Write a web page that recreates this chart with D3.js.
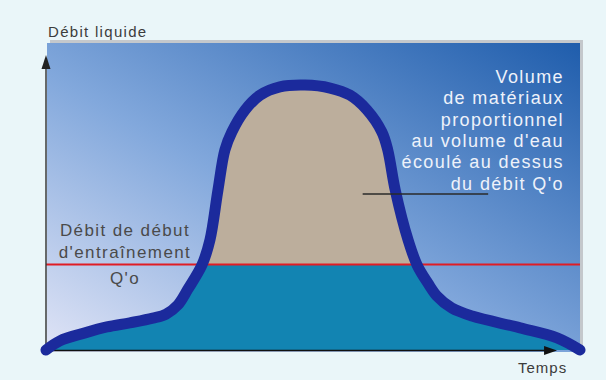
<!DOCTYPE html>
<html>
<head>
<meta charset="utf-8">
<script src="https://cdn.jsdelivr.net/npm/d3@7"></script>
<style>
  html, body { margin: 0; padding: 0; background: #eaf6f9; }
  svg { display: block; }
  text { font-family: "Liberation Sans", Arial, sans-serif; }
</style>
</head>
<body>
<svg id="chart" width="606" height="380"></svg>
<script>
// Hydrograph: liquid discharge over time (arbitrary units, 0-100)
const temps = [0, 2.6, 7.3, 11.4, 15.7, 20.0, 22.5, 24.7, 26.6, 29.2, 30.7, 32.2, 33.5, 34.8, 37.3, 40.1,
               43.8, 48.5, 53.2, 56.9, 60.1, 62.9, 64.0, 65.4, 67.8, 69.5, 71.5, 73.2, 76.0, 79.8,
               88.8, 95.7, 100];
const debit = [0, 3.1, 5.8, 7.8, 9.2, 10.8, 12.2, 15.3, 20.7, 28.8, 37.3, 54.2, 67.8, 73.9, 81.4, 86.4,
               89.2, 89.8, 88.8, 86.4, 81.4, 73.9, 67.8, 54.2, 37.3, 28.8, 22.7, 18.3, 14.2, 11.5,
               7.5, 4.1, 0];
// Threshold discharge for the start of sediment transport (Q'o)
const debitSeuil = 29;

const titreAxeY = "Débit liquide";
const titreAxeX = "Temps";
const labelSeuil = ["Débit de début", "d'entraînement", "Q'o"];
const labelVolume = ["Volume", "de matériaux", "proportionnel", "au volume d'eau", "écoulé au dessus", "du débit Q'o"];

const points = temps.map((t, i) => ({ t, q: debit[i] }));

const svg = d3.select("#chart");
const x = d3.scaleLinear().domain([0, 100]).range([46, 580]);
const y = d3.scaleLinear().domain([0, 100]).range([350, 55]);

const panel = { x0: 47, y0: 43, x1: 580, y1: 352 };

// Background gradient of the plotting panel
const defs = svg.append("defs");
const grad = defs.append("linearGradient")
  .attr("id", "fond").attr("x1", 0).attr("y1", 1).attr("x2", 1).attr("y2", 0);
grad.append("stop").attr("offset", 0).attr("stop-color", "#e0e4f6");
grad.append("stop").attr("offset", 0.45).attr("stop-color", "#82a8dc");
grad.append("stop").attr("offset", 1).attr("stop-color", "#1f5dac");

// Panel shadow and panel
svg.append("rect")
  .attr("x", panel.x0 + 3).attr("y", panel.y0 - 3)
  .attr("width", panel.x1 - panel.x0).attr("height", panel.y1 - panel.y0)
  .attr("fill", "#c4c8cc");
svg.append("rect")
  .attr("x", panel.x0).attr("y", panel.y0)
  .attr("width", panel.x1 - panel.x0).attr("height", panel.y1 - panel.y0)
  .attr("fill", "url(#fond)");

// Area under the hydrograph, used as a clip
const area = d3.area().x(d => x(d.t)).y0(y(0)).y1(d => y(d.q)).curve(d3.curveCatmullRom);
defs.append("clipPath").attr("id", "sousCourbe")
  .append("path").attr("d", area(points));

const g = svg.append("g").attr("clip-path", "url(#sousCourbe)");
// Volume above threshold (sediment)
g.append("rect")
  .attr("x", x(0)).attr("y", y(100))
  .attr("width", x(100) - x(0)).attr("height", y(debitSeuil) - y(100))
  .attr("fill", "#bcae9c");
// Water below threshold
g.append("rect")
  .attr("x", x(0)).attr("y", y(debitSeuil))
  .attr("width", x(100) - x(0)).attr("height", y(0) - y(debitSeuil) + 2)
  .attr("fill", "#1284b2");

// Threshold line
svg.append("line")
  .attr("x1", x(0)).attr("x2", x(100))
  .attr("y1", y(debitSeuil)).attr("y2", y(debitSeuil))
  .attr("stroke", "#e01c24").attr("stroke-width", 2);

// Axes with arrowheads
const axe = svg.append("g").attr("stroke", "#3a3a3a").attr("fill", "#222");
axe.append("line")
  .attr("x1", x(0)).attr("x2", x(0)).attr("y1", y(0) + 1).attr("y2", y(100) + 10)
  .attr("stroke-width", 1.5);
axe.append("path")
  .attr("d", `M${x(0)},${y(100)} L${x(0) - 4.5},${y(100) + 14} L${x(0) + 4.5},${y(100) + 14} Z`)
  .attr("stroke", "none");
axe.append("line")
  .attr("x1", x(0)).attr("x2", x(95.7) - 8).attr("y1", y(0) + 0.5).attr("y2", y(0) + 0.5)
  .attr("stroke", "#111").attr("stroke-width", 1.5);
axe.append("path")
  .attr("d", `M${x(95.7)},${y(0) + 0.5} L${x(95.7) - 13},${y(0) - 4} L${x(95.7) - 13},${y(0) + 5} Z`)
  .attr("stroke", "none").attr("fill", "#111");

// Hydrograph curve
const line = d3.line().x(d => x(d.t)).y(d => y(d.q)).curve(d3.curveCatmullRom);
svg.append("path")
  .attr("d", line(points))
  .attr("fill", "none")
  .attr("stroke", "#1b2a9c")
  .attr("stroke-width", 11)
  .attr("stroke-linecap", "round")
  .attr("stroke-linejoin", "round");

// Leader line from the annotation to the sediment volume
svg.append("line")
  .attr("x1", x(59.3)).attr("x2", x(82.8))
  .attr("y1", y(52.9)).attr("y2", y(52.9))
  .attr("stroke", "#2a2a2a").attr("stroke-width", 1.5);

// Axis titles
svg.append("text")
  .attr("x", 48).attr("y", 37)
  .attr("font-size", 15).attr("letter-spacing", 1.3)
  .attr("fill", "#3c3c3c").text(titreAxeY);
svg.append("text")
  .attr("x", 518).attr("y", 373)
  .attr("font-size", 15).attr("letter-spacing", 1)
  .attr("fill", "#3c3c3c").text(titreAxeX);

// Threshold label
svg.append("g").selectAll("text").data(labelSeuil).join("text")
  .attr("x", 125)
  .attr("y", (d, i) => [236, 258, 284][i])
  .attr("text-anchor", "middle")
  .attr("font-size", 17).attr("letter-spacing", 1.4)
  .attr("fill", "#4a4a4a")
  .text(d => d);

// Volume annotation
svg.append("g").selectAll("text").data(labelVolume).join("text")
  .attr("x", 564)
  .attr("y", (d, i) => 83 + i * 21.3)
  .attr("text-anchor", "end")
  .attr("font-size", 18).attr("letter-spacing", 1.4)
  .attr("fill", "#eef2fa")
  .text(d => d);
</script>
</body>
</html>
